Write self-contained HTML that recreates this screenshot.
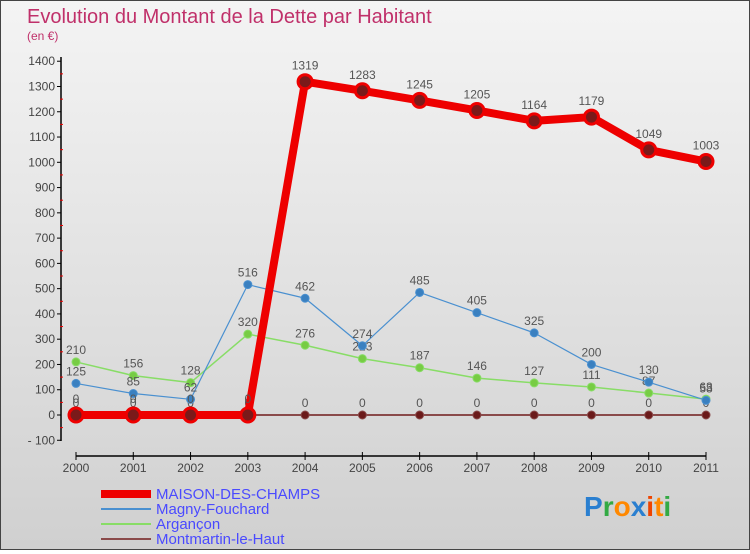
<!DOCTYPE html>
<html><head><meta charset="utf-8"><style>
body{margin:0;width:750px;height:550px;overflow:hidden;font-family:"Liberation Sans",sans-serif}
#wrap{position:absolute;left:0;top:0;width:748px;height:548px;border:1px solid #444;background:linear-gradient(#f4f4f4,#d0d0d0)}
</style></head><body>
<div id="wrap">
<svg id="chart" width="748" height="548" style="font-family:'Liberation Sans',sans-serif"></svg>
</div>
<script>
const years=["2000","2001","2002","2003","2004","2005","2006","2007","2008","2009","2010","2011"];
const maison=[0,0,0,0,1319,1283,1245,1205,1164,1179,1049,1003];
const magny=[125,85,62,516,462,274,485,405,325,200,130,58];
const argancon=[210,156,128,320,276,223,187,146,127,111,87,63];
const montmartin=[0,0,0,0,0,0,0,0,0,0,0,0];
const yTicks=[-100,0,100,200,300,400,500,600,700,800,900,1000,1100,1200,1300,1400];
const NS="http://www.w3.org/2000/svg";
const svg=document.getElementById('chart');
const X=i=>75+i*(630/11);
const Y=v=>414-v*0.2527;
function mk(t,a,p){const e=document.createElementNS(NS,t);for(const k in a)e.setAttribute(k,a[k]);(p||svg).appendChild(e);return e;}
let t=mk('text',{x:26,y:22,'font-size':20,fill:'#c0306a'});t.textContent="Evolution du Montant de la Dette par Habitant";


t=mk('text',{x:26,y:39,'font-size':12,fill:'#c0306a'});t.textContent="(en €)";


let ax=mk('line',{x1:60,y1:56,x2:60,y2:440,stroke:'#000','stroke-width':1.5});


yTicks.forEach((v,k)=>{mk('line',{x1:56,x2:60,y1:Y(v),y2:Y(v),stroke:'#000'});
 if(k<yTicks.length-1) mk('line',{x1:59,x2:62,y1:Y(v+50),y2:Y(v+50),stroke:'#e00'});
 const l=mk('text',{x:54,y:Y(v)+4,'font-size':12,fill:'#444','text-anchor':'end'});l.textContent=v<0?"- 100":v;
 
 });
ax=mk('line',{x1:75,y1:455,x2:705,y2:455,stroke:'#000','stroke-width':1.5});


years.forEach((y,i)=>{mk('line',{x1:X(i),x2:X(i),y1:451,y2:459,stroke:'#000'});
 const l=mk('text',{x:X(i),y:471,'font-size':12,fill:'#444','text-anchor':'middle'});l.textContent=y;
 
 });
function series(d,name,col,w,r,dot){
 const g=mk('g',{});
 
 
 mk('polyline',{points:d.map((v,i)=>X(i)+','+Y(v)).join(' '),fill:'none',stroke:col,'stroke-width':w,'stroke-linejoin':'round'},g);
 d.forEach((v,i)=>{const c=mk('circle',{cx:X(i),cy:Y(v),r:r,fill:dot,stroke:col,'stroke-width':r>5?3:1},g);
  
  
  const l=mk('text',{x:X(i),y:Y(v)-(r>5?12:8),'font-size':12,fill:'#555','text-anchor':'middle'},g);l.textContent=v;
  
  });
}
series(montmartin,'series-montmartin','#8a4a4a',2,4,'#6b1a1a');
series(argancon,'series-argancon','#88dd66',1.5,4,'#77cc44');
series(magny,'series-magny','#4a90d0',1.2,4,'#3a80c0');
series(maison,'series-maison','#ee0000',8,7,'#7a1a1a');
const leg=[["MAISON-DES-CHAMPS","#ee0000",8],["Magny-Fouchard","#4a90d0",2],["Argançon","#88dd66",2],["Montmartin-le-Haut","#8a4a4a",2]];
leg.forEach((e,i)=>{const g=mk('g',{});
 
 
 mk('line',{x1:100,x2:150,y1:493+i*15,y2:493+i*15,stroke:e[1],'stroke-width':e[2]},g);
 const l=mk('text',{x:155,y:498+i*15,'font-size':15,fill:'#4a4aff'},g);l.textContent=e[0];});
const lg=mk('text',{x:583,y:515,'font-size':28,'font-weight':'bold'});


[["P","#2a7fd0"],["r","#33aa44"],["o","#ff8800"],["x","#2a7fd0"],["i","#ee4400"],["t","#ff8800"],["i","#33aa44"]].forEach(c=>{const s=mk('tspan',{fill:c[1]},lg);s.textContent=c[0];});
</script>
</body></html>
